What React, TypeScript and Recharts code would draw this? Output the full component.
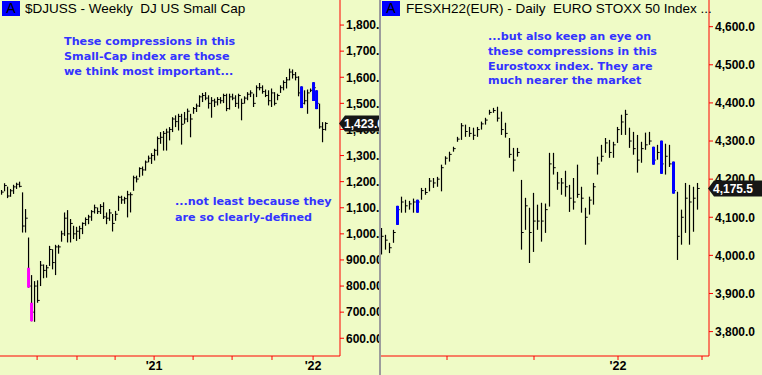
import React from 'react';
import { ComposedChart, Bar, XAxis, YAxis, ReferenceLine } from 'recharts';

const BG = '#effbc6';
const AXIS_RED = '#ff0000';
const NOTE_BLUE = '#3333ff';
const HI_BLUE = '#0000ff';
const HI_PINK = '#ff00ff';

// $DJUSS weekly bars (index = week number from the first bar)
const smallCapHigh = [
  1168, 1194, 1181, 1172, 1188, 1196, 1200, 1159, 1095, 986,
  842, 819, 822, 896, 883, 881, 954, 941, 958, 958,
  1012, 1082, 1091, 1057, 1031, 1027, 1031, 1044, 1063, 1073,
  1091, 1112, 1101, 1114, 1121, 1082, 1095, 1076, 1088, 1146,
  1146, 1142, 1165, 1159, 1223, 1223, 1255, 1258, 1281, 1300,
  1309, 1326, 1373, 1390, 1394, 1403, 1409, 1447, 1454, 1460,
  1460, 1467, 1480, 1460, 1486, 1499, 1531, 1540, 1543, 1531,
  1524, 1518, 1524, 1524, 1537, 1537, 1537, 1537, 1531, 1537,
  1518, 1527, 1543, 1550, 1537, 1569, 1578, 1569, 1553, 1550,
  1557, 1543, 1537, 1569, 1588, 1601, 1633, 1630, 1620, 1604,
  1565, 1550, 1553, 1557, 1581, 1550, 1499, 1428, 1428,
];
const smallCapLow = [
  1150, 1163, 1137, 1142, 1153, 1172, 1178, 1005, 1005, 794,
  665, 663, 736, 800, 830, 832, 877, 864, 842, 924,
  970, 992, 967, 967, 980, 973, 980, 999, 1031, 1037,
  1050, 1078, 1076, 1076, 1057, 1037, 1050, 1009, 1050, 1088,
  1115, 1115, 1063, 1082, 1165, 1197, 1217, 1223, 1242, 1274,
  1268, 1281, 1300, 1345, 1319, 1319, 1358, 1390, 1409, 1396,
  1342, 1422, 1428, 1370, 1460, 1467, 1486, 1505, 1512, 1480,
  1445, 1486, 1492, 1499, 1501, 1470, 1476, 1512, 1486, 1480,
  1435, 1499, 1512, 1524, 1486, 1524, 1550, 1537, 1524, 1492,
  1486, 1492, 1512, 1540, 1550, 1557, 1588, 1595, 1588, 1527,
  1482, 1496, 1460, 1543, 1509, 1478, 1403, 1351, 1396,
];
const smallCapClose = [
  1160, 1185, 1145, 1165, 1180, 1190, 1182, 1030, 1060, 800,
  700, 800, 745, 880, 860, 870, 940, 890, 950, 950,
  1000, 1060, 1000, 1040, 1000, 1010, 1020, 1040, 1055, 1065,
  1085, 1100, 1085, 1105, 1065, 1060, 1080, 1040, 1075, 1140,
  1130, 1135, 1150, 1150, 1215, 1210, 1250, 1245, 1275, 1290,
  1300, 1320, 1365, 1370, 1385, 1390, 1400, 1440, 1430, 1450,
  1420, 1440, 1470, 1440, 1480, 1490, 1525, 1530, 1520, 1500,
  1510, 1505, 1515, 1510, 1530, 1480, 1525, 1520, 1500, 1530,
  1500, 1520, 1535, 1540, 1500, 1560, 1560, 1545, 1530, 1510,
  1540, 1500, 1530, 1560, 1580, 1590, 1620, 1610, 1600, 1540,
  1500, 1510, 1540, 1550, 1560, 1500, 1410, 1400, 1423,
];
// compression bars painted in colour (lo/hi omitted = whole bar)
const smallCapMarks = [
  { bar: 9, lo: 794, hi: 870, color: HI_PINK },
  { bar: 10, lo: 665, hi: 736, color: HI_PINK },
  { bar: 100, color: HI_BLUE },
  { bar: 104, color: HI_BLUE },
  { bar: 105, color: HI_BLUE },
];
const smallCapXTicks = [11.8, 25.1, 37.8, 50.8, 63.8, 76.8, 90.1, 103.8];
const smallCapXLabels: Record<string, string> = { '50.8': "'21", '103.8': "'22" };
const smallCapYTicks = [600, 700, 800, 900, 1000, 1100, 1200, 1300, 1400, 1500, 1600, 1700, 1800];
const smallCapLast = 1423;

// FESXH22 daily bars
const euroHigh = [
  4072, 4054, 4033, 4067, 4130, 4154, 4146, 4143, 4149, 4146,
  4177, 4177, 4203, 4203, 4206, 4238, 4260, 4272, 4285, 4311,
  4347, 4343, 4337, 4335, 4337, 4351, 4361, 4382, 4387, 4390,
  4377, 4348, 4308, 4282, 4282, 4198, 4151, 4125, 4164, 4133,
  4138, 4136, 4269, 4269, 4219, 4203, 4222, 4185, 4203, 4238,
  4180, 4125, 4154, 4190, 4259, 4290, 4308, 4303, 4298, 4337,
  4369, 4382, 4335, 4324, 4316, 4298, 4322, 4324, 4285, 4290,
  4301, 4293, 4290, 4246, 4167, 4120, 4190, 4185, 4180, 4190,
];
const euroLow = [
  4002, 4015, 4006, 4033, 4080, 4112, 4112, 4120, 4112, 4112,
  4146, 4159, 4168, 4177, 4180, 4168, 4238, 4246, 4272, 4298,
  4303, 4311, 4311, 4303, 4311, 4330, 4343, 4369, 4374, 4351,
  4316, 4309, 4256, 4220, 4259, 4015, 4067, 3980, 4009, 4067,
  4036, 4059, 4128, 4212, 4172, 4159, 4154, 4114, 4120, 4151,
  4112, 4028, 4107, 4133, 4212, 4246, 4269, 4256, 4256, 4295,
  4316, 4316, 4282, 4264, 4217, 4243, 4277, 4290, 4238, 4251,
  4214, 4212, 4232, 4162, 3988, 4028, 4059, 4028, 4062, 4120,
];
const euroClose = [
  4050, 4040, 4020, 4060, 4120, 4140, 4130, 4135, 4140, 4140,
  4170, 4165, 4195, 4190, 4200, 4230, 4255, 4265, 4280, 4305,
  4340, 4325, 4320, 4315, 4330, 4345, 4355, 4375, 4380, 4360,
  4330, 4320, 4265, 4250, 4270, 4060, 4130, 4060, 4090, 4090,
  4090, 4120, 4240, 4230, 4190, 4190, 4180, 4150, 4140, 4160,
  4150, 4100, 4145, 4180, 4240, 4260, 4295, 4270, 4290, 4330,
  4350, 4370, 4300, 4280, 4250, 4280, 4290, 4300, 4250, 4270,
  4240, 4260, 4240, 4170, 4050, 4100, 4150, 4140, 4150, 4175.5,
];
const euroMarks = [
  { bar: 4, color: HI_BLUE },
  { bar: 9, color: HI_BLUE },
  { bar: 68, color: HI_BLUE },
  { bar: 70, color: HI_BLUE },
  { bar: 73, color: HI_BLUE },
];
const euroXTicks = [16.25, 38, 59, 80];
const euroXLabels: Record<string, string> = { '59': "'22" };
const euroYTicks = [3800, 3900, 4000, 4100, 4200, 4300, 4400, 4500, 4600];
const euroLast = 4175.5;

type Mark = { bar: number; lo?: number; hi?: number; color: string };

function buildRows(high: number[], low: number[], close: number[], marks: Mark[]) {
  return high.map((h, i) => {
    const m = marks.find((k) => k.bar === i);
    return {
      i,
      range: [low[i], h],
      high: h,
      low: low[i],
      close: close[i],
      markHi: m ? m.hi ?? h : null,
      markLo: m ? m.lo ?? low[i] : null,
      markColor: m ? m.color : null,
    };
  });
}

const smallCapRows = buildRows(smallCapHigh, smallCapLow, smallCapClose, smallCapMarks);
const euroRows = buildRows(euroHigh, euroLow, euroClose, euroMarks);

function OhlcShape(props: any) {
  const { x, y, width, height, payload } = props;
  if (x == null || y == null) return null;
  const top = Math.min(y, y + height);
  const h = Math.abs(height);
  const cx = x + width / 2;
  const span = payload.high - payload.low || 1;
  const toY = (v: number) => top + ((payload.high - v) / span) * h;
  const cy = toY(payload.close);
  return (
    <g>
      <line x1={cx} x2={cx} y1={top} y2={top + h} stroke="#000" strokeWidth={1.2} />
      <line x1={cx} x2={cx + 2.2} y1={cy} y2={cy} stroke="#000" strokeWidth={1} />
      {payload.markColor && (
        <rect
          x={cx - 1.5}
          width={3}
          y={toY(payload.markHi)}
          height={toY(payload.markLo) - toY(payload.markHi)}
          fill={payload.markColor}
        />
      )}
    </g>
  );
}

function PriceTag(props: any) {
  const { viewBox, text } = props;
  if (!viewBox) return null;
  const x0 = viewBox.x + viewBox.width;
  const y = viewBox.y;
  const w = 60;
  return (
    <g>
      <path
        d={`M${x0 - 1} ${y} L${x0 + 5} ${y - 8} L${x0 + w} ${y - 8} L${x0 + w} ${y + 8} L${x0 + 5} ${y + 8} Z`}
        fill="#161616"
      />
      <text
        x={x0 + 4}
        y={y}
        dy="0.36em"
        fill="#fff"
        fontSize={12}
        fontWeight="bold"
        fontFamily="Liberation Sans, Arial, sans-serif"
      >
        {text}
      </text>
    </g>
  );
}

const tickFont = { fill: '#000', fontSize: 12, fontWeight: 'bold', fontFamily: 'Liberation Sans, Arial, sans-serif' };

type PanelProps = {
  width: number;
  axisWidth: number;
  rows: any[];
  xDomain: [number, number];
  xTicks: number[];
  xLabels: Record<string, string>;
  yDomain: [number, number];
  yTicks: number[];
  digits: number;
  last: number;
};

function Panel(props: PanelProps) {
  const fmt = (v: number) =>
    v.toLocaleString('en-US', { minimumFractionDigits: props.digits, maximumFractionDigits: props.digits });
  return (
    <>
      <div style={{ position: 'absolute', left: 0, top: 0 }}>
        <ComposedChart
          width={props.width}
          height={375}
          data={props.rows}
          margin={{ top: 0, right: 0, bottom: 0, left: 0 }}
        >
          <XAxis
            type="number"
            dataKey="i"
            domain={props.xDomain}
            allowDataOverflow
            ticks={props.xTicks}
            interval={0}
            height={19}
            tickSize={4}
            tickMargin={1}
            axisLine={{ stroke: AXIS_RED }}
            tickLine={{ stroke: AXIS_RED }}
            tick={{ ...tickFont, fontSize: 12.5 }}
            tickFormatter={(v: number) => props.xLabels[String(v)] ?? ''}
          />
          <YAxis
            type="number"
            orientation="right"
            domain={props.yDomain}
            allowDataOverflow
            ticks={props.yTicks}
            interval={0}
            width={props.axisWidth}
            tickSize={4}
            tickMargin={2}
            axisLine={{ stroke: AXIS_RED }}
            tickLine={{ stroke: AXIS_RED }}
            tick={tickFont}
            tickFormatter={fmt}
          />
          <Bar dataKey="range" barSize={3} shape={<OhlcShape />} isAnimationActive={false} />
        </ComposedChart>
      </div>
      {/* second layer so the last-price tag sits above the axis labels */}
      <div style={{ position: 'absolute', left: 0, top: 0 }}>
        <ComposedChart
          width={props.width}
          height={375}
          data={props.rows}
          margin={{ top: 0, right: 0, bottom: 0, left: 0 }}
        >
          <XAxis
            type="number"
            dataKey="i"
            domain={props.xDomain}
            allowDataOverflow
            height={19}
            tick={false}
            tickLine={false}
            axisLine={false}
          />
          <YAxis
            type="number"
            orientation="right"
            domain={props.yDomain}
            allowDataOverflow
            width={props.axisWidth}
            tick={false}
            tickLine={false}
            axisLine={false}
          />
          <ReferenceLine
            y={props.last}
            stroke="none"
            ifOverflow="visible"
            label={<PriceTag text={fmt(props.last)} />}
          />
        </ComposedChart>
      </div>
    </>
  );
}

const titleFont: React.CSSProperties = {
  position: 'absolute',
  top: 1,
  fontFamily: 'Liberation Sans, Arial, sans-serif',
  fontSize: 13.5,
  lineHeight: '16px',
  color: '#000',
  whiteSpace: 'pre',
};

const noteFont: React.CSSProperties = {
  position: 'absolute',
  fontFamily: 'DejaVu Sans, sans-serif',
  fontWeight: 'bold',
  fontSize: 11.2,
  lineHeight: '15px',
  color: NOTE_BLUE,
  whiteSpace: 'pre',
};

function Badge({ left }: { left: number }) {
  return (
    <div
      style={{
        position: 'absolute',
        left,
        top: 1,
        width: 18,
        height: 15,
        background: HI_BLUE,
        color: '#000',
        fontFamily: 'Liberation Sans, Arial, sans-serif',
        fontSize: 14,
        lineHeight: '15px',
        textAlign: 'center',
      }}
    >
      A
    </div>
  );
}

export default function App() {
  return (
    <div style={{ position: 'fixed', left: 0, top: 0, width: 762, height: 375, background: BG, overflow: 'hidden' }}>
      <div style={{ position: 'absolute', left: 0, top: 0, width: 379, height: 375, overflow: 'hidden' }}>
        <Panel
          width={379}
          axisWidth={39}
          rows={smallCapRows}
          xDomain={[-0.567, 112.77]}
          xTicks={smallCapXTicks}
          xLabels={smallCapXLabels}
          yDomain={[532, 1896]}
          yTicks={smallCapYTicks}
          digits={2}
          last={smallCapLast}
        />
      </div>
      <div style={{ position: 'absolute', left: 379, top: 0, width: 2, height: 375, background: '#9c9c9c' }} />
      <div style={{ position: 'absolute', left: 381, top: 0, width: 381, height: 375, overflow: 'hidden' }}>
        <Panel
          width={381}
          axisWidth={53}
          rows={euroRows}
          xDomain={[-0.25, 81.75]}
          xTicks={euroXTicks}
          xLabels={euroXLabels}
          yDomain={[3736, 4670]}
          yTicks={euroYTicks}
          digits={1}
          last={euroLast}
        />
      </div>

      <Badge left={2} />
      <div style={{ ...titleFont, left: 25 }}>{'$DJUSS - Weekly  DJ US Small Cap'}</div>
      <Badge left={382} />
      <div style={{ ...titleFont, left: 406 }}>{'FESXH22(EUR) - Daily  EURO STOXX 50 Index ...'}</div>

      <div style={{ ...noteFont, left: 64, top: 34 }}>
        {'These compressions in this\nSmall-Cap index are those\nwe think most important...'}
      </div>
      <div style={{ ...noteFont, left: 175, top: 194, lineHeight: '15.5px' }}>
        {'...not least because they\nare so clearly-defined'}
      </div>
      <div style={{ ...noteFont, left: 488, top: 30, lineHeight: '14.8px' }}>
        {'...but also keep an eye on\nthese compressions in this\nEurostoxx index. They are\nmuch nearer the market'}
      </div>
    </div>
  );
}
